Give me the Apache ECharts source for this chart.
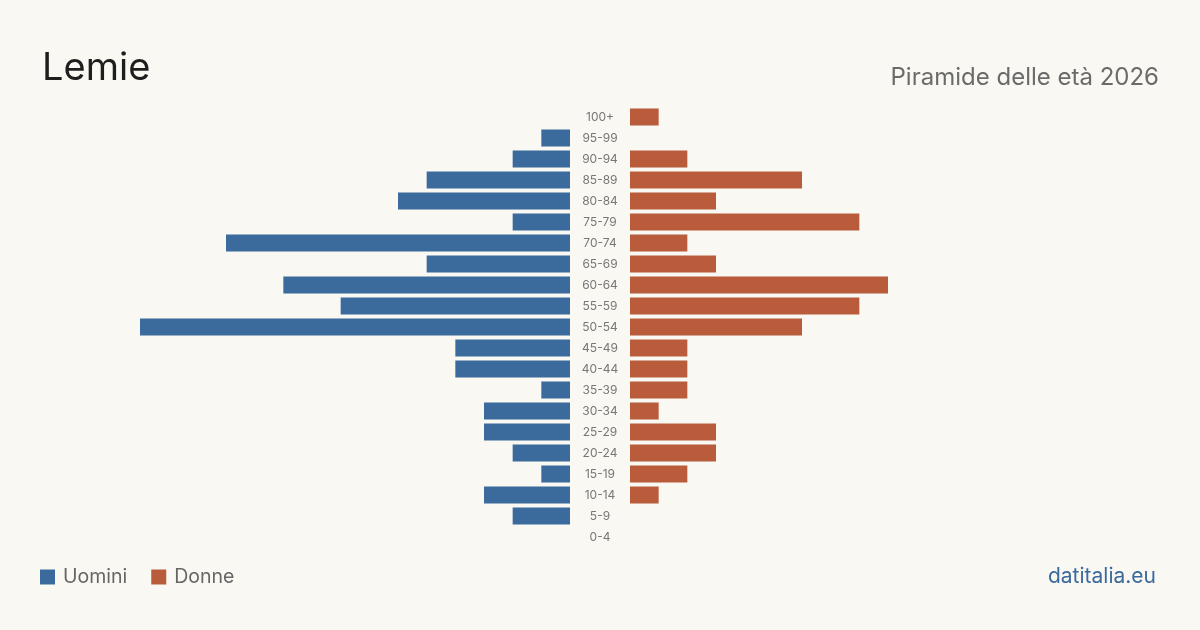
<!DOCTYPE html>
<html>
<head>
<meta charset="utf-8">
<script src="https://cdn.jsdelivr.net/npm/echarts@6/dist/echarts.min.js"></script>
<style>
  html, body { margin: 0; padding: 0; background: #f9f8f3; }
  #chart { width: 1200px; height: 630px; }
</style>
</head>
<body>
<div id="chart"></div>
<script>
// fasce d'età, dall'alto verso il basso
var ageGroups = ["100+", "95-99", "90-94", "85-89", "80-84", "75-79", "70-74", "65-69", "60-64", "55-59",
  "50-54", "45-49", "40-44", "35-39", "30-34", "25-29", "20-24", "15-19", "10-14", "5-9", "0-4"];
var uomini = [0, 1, 2, 5, 6, 2, 12, 5, 10, 8, 15, 4, 4, 1, 3, 3, 2, 1, 3, 2, 0];
var donne = [1, 0, 2, 6, 3, 8, 2, 3, 9, 8, 6, 2, 2, 2, 1, 3, 3, 2, 1, 0, 0];
var maxVal = 15;

var font = "Inter, 'Noto Sans', sans-serif";
var chart = echarts.init(document.getElementById("chart"));

var option = {
  backgroundColor: "#f9f8f3",
  animation: false,
  textStyle: { fontFamily: font },
  title: [
    {
      text: "Lemie",
      left: 42, top: 50, padding: 0,
      textStyle: { fontSize: 38, fontWeight: "normal", color: "#1e1e1e", fontFamily: font }
    },
    {
      text: "Piramide delle età 2026",
      right: 41, top: 66, padding: 0,
      textStyle: { fontSize: 24, fontWeight: "normal", color: "#6b6b6b", fontFamily: font }
    },
    {
      text: "datitalia.eu",
      right: 44, top: 566, padding: 0,
      textStyle: { fontSize: 21, fontWeight: "normal", color: "#3b6a9c", fontFamily: font }
    }
  ],
  legend: {
    left: 40, top: 567, padding: 0,
    itemWidth: 15, itemHeight: 15, itemGap: 24,
    icon: "rect",
    textStyle: { fontSize: 19.5, color: "#666", fontFamily: font, padding: [0, 0, 0, 3] },
    data: ["Uomini", "Donne"]
  },
  grid: [
    { left: 140, width: 430, top: 106.5, height: 441 },
    { left: 630, width: 430, top: 106.5, height: 441 }
  ],
  xAxis: [
    { type: "value", gridIndex: 0, min: 0, max: maxVal, inverse: true, show: false },
    { type: "value", gridIndex: 1, min: 0, max: maxVal, show: false }
  ],
  yAxis: [
    {
      type: "category", gridIndex: 0, data: ageGroups, inverse: true, position: "right",
      axisLine: { show: false }, axisTick: { show: false }, splitLine: { show: false },
      axisLabel: { margin: 30, align: "center", fontSize: 12, color: "#777", fontFamily: font }
    },
    {
      type: "category", gridIndex: 1, data: ageGroups, inverse: true, show: false
    }
  ],
  series: [
    {
      name: "Uomini", type: "bar", xAxisIndex: 0, yAxisIndex: 0,
      data: uomini, barWidth: 17, itemStyle: { color: "#3b6a9c" }
    },
    {
      name: "Donne", type: "bar", xAxisIndex: 1, yAxisIndex: 1,
      data: donne, barWidth: 17, itemStyle: { color: "#b95c3c" }
    }
  ]
};

chart.setOption(option);
</script>
</body>
</html>
